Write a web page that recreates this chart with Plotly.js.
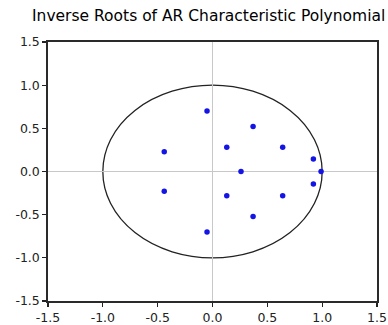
<!DOCTYPE html>
<html>
<head>
<meta charset="utf-8">
<script src="https://cdn.plot.ly/plotly-3.0.1.min.js"></script>
<style>html,body{margin:0;padding:0;background:#fff;}#chart{width:388px;height:325px;}</style>
</head>
<body>
<div id="chart"></div>
<script>
var rootReal = [-0.05, -0.05, 0.37, 0.37, 0.13, 0.13, 0.64, 0.64, 0.92, 0.92, -0.44, -0.44, 0.99, 0.26];
var rootImag = [0.70, -0.70, 0.52, -0.52, 0.28, -0.28, 0.28, -0.28, 0.145, -0.145, 0.23, -0.23, 0.0, 0.0];
var unitRadius = 1;
var axisTicks = [-1.5, -1.0, -0.5, 0.0, 0.5, 1.0, 1.5];
var tickText = ['-1.5', '-1.0', '-0.5', '0.0', '0.5', '1.0', '1.5'];
var chartTitle = 'Inverse Roots of AR Characteristic Polynomial';

var trace = {
  x: rootReal, y: rootImag, type: 'scatter', mode: 'markers',
  marker: {color: '#1414e6', size: 5.5}, hoverinfo: 'none', showlegend: false
};

var axisCommon = {
  tickmode: 'array', tickvals: axisTicks, ticktext: tickText,
  ticks: 'outside', ticklen: 4, tickwidth: 1.2, tickcolor: '#222',
  showline: true, linecolor: '#2a2a2a', linewidth: 1.7, mirror: true,
  showgrid: false, zeroline: true, zerolinecolor: '#c8c8c8', zerolinewidth: 1,
  tickfont: {family: 'DejaVu Sans', size: 12.5, color: '#222'},
  fixedrange: true
};

var layout = {
  width: 388, height: 325,
  margin: {l: 48, r: 11, t: 42, b: 24},
  paper_bgcolor: '#fff', plot_bgcolor: '#fff',
  title: {text: chartTitle, xref: 'container', yref: 'container', x: 32/388, xanchor: 'left',
          y: 1 - 16/325, yanchor: 'middle',
          font: {family: 'DejaVu Sans', size: 15.5, color: '#000'}},
  xaxis: Object.assign({range: [-1.5, 1.5]}, axisCommon),
  yaxis: Object.assign({range: [-1.5, 1.5]}, axisCommon),
  shapes: [{type: 'circle', xref: 'x', yref: 'y', x0: -unitRadius, y0: -unitRadius, x1: unitRadius, y1: unitRadius,
            line: {color: '#222', width: 1.3}, layer: 'below'}]
};

Plotly.newPlot('chart', [trace], layout, {displayModeBar: false, staticPlot: true});
</script>
</body>
</html>
